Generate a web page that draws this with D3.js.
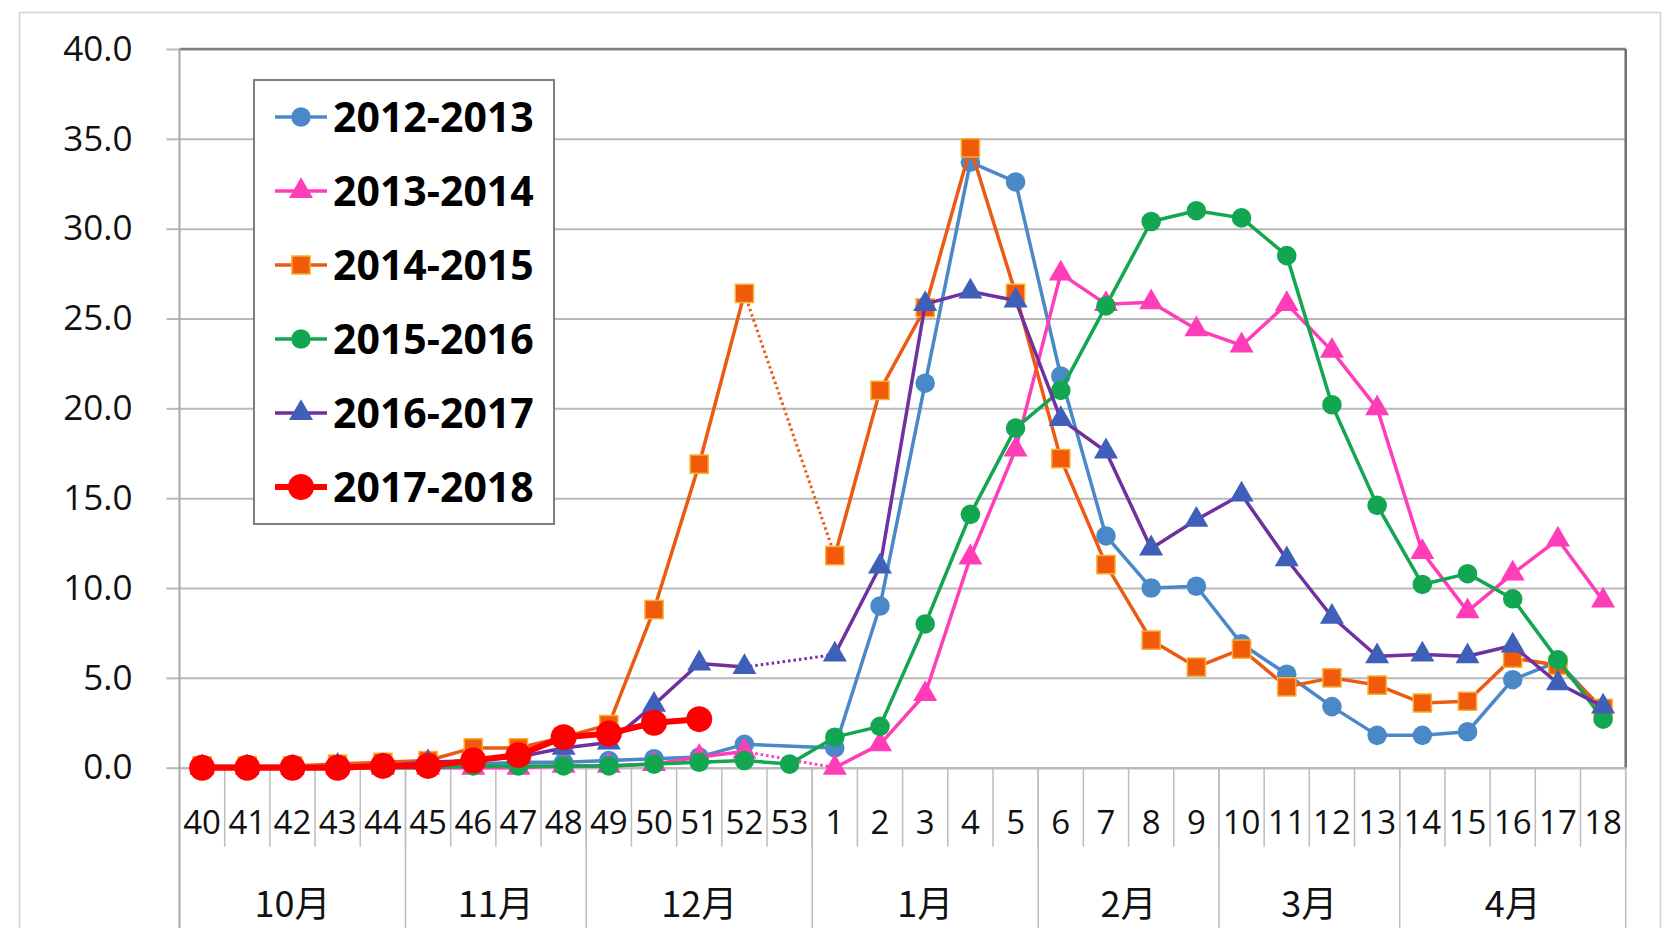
<!DOCTYPE html>
<html>
<head>
<meta charset="utf-8">
<script src="https://cdn.jsdelivr.net/npm/d3@7"></script>
<style>
    body { margin: 0; background: #fff; }
    svg { display: block; font-family: 'Open Sans', 'Noto Sans', sans-serif; }
</style>
</head>
<body>
<div class="line-chart-container"></div>
<script>
//週番号(40週~53週,1週~18週)
const weeks = ['40', '41', '42', '43', '44', '45', '46', '47', '48', '49', '50', '51', '52', '53',
    '1', '2', '3', '4', '5', '6', '7', '8', '9', '10', '11', '12', '13', '14', '15', '16', '17', '18'];
//月ラベルと各月の週数
const months = ['10月', '11月', '12月', '1月', '2月', '3月', '4月'];
const monthWeekCounts = [5, 4, 5, 5, 4, 4, 5];
const yTicks = [0, 5, 10, 15, 20, 25, 30, 35, 40];
const seasons = ['2012-2013', '2013-2014', '2014-2015', '2015-2016', '2016-2017', '2017-2018'];

//各シーズンの値,null=データなし
const v2012_2013 = [0.0, 0.0, 0.0, 0.1, 0.1, 0.2, 0.2, 0.3, 0.3, 0.4, 0.5, 0.6, 1.3, null,
    1.1, 9.0, 21.4, 33.7, 32.6, 21.8, 12.9, 10.0, 10.1, 6.9, 5.2, 3.4, 1.8, 1.8, 2.0, 4.9, 5.9, 3.2];
const v2013_2014 = [0.0, 0.0, 0.0, 0.0, 0.0, 0.0, 0.0, 0.0, 0.1, 0.1, 0.2, 0.6, 0.9, null,
    0.0, 1.3, 4.1, 11.7, 17.7, 27.5, 25.8, 25.9, 24.4, 23.5, 25.8, 23.2, 20.0, 12.0, 8.7, 10.8, 12.7, 9.3];
const v2014_2015 = [0.1, 0.1, 0.1, 0.2, 0.3, 0.4, 1.1, 1.1, 1.7, 2.4, 8.8, 16.9, 26.4, null,
    11.8, 21.0, 25.6, 34.5, 26.4, 17.2, 11.3, 7.1, 5.6, 6.6, 4.5, 5.0, 4.6, 3.6, 3.7, 6.1, 5.7, 3.3];
const v2015_2016 = [0.0, 0.0, 0.0, 0.0, 0.0, 0.0, 0.1, 0.1, 0.1, 0.1, 0.2, 0.3, 0.4, 0.2,
    1.7, 2.3, 8.0, 14.1, 18.9, 21.0, 25.7, 30.4, 31.0, 30.6, 28.5, 20.2, 14.6, 10.2, 10.8, 9.4, 6.0, 2.7];
const v2016_2017 = [0.0, 0.0, 0.0, 0.1, 0.1, 0.3, 0.4, 0.6, 1.1, 1.4, 3.5, 5.8, 5.6, null,
    6.3, 11.2, 25.8, 26.5, 26.0, 19.4, 17.6, 12.2, 13.8, 15.2, 11.6, 8.4, 6.2, 6.3, 6.2, 6.8, 4.7, 3.4];
const v2017_2018 = [0.0, 0.0, 0.0, 0.0, 0.1, 0.1, 0.4, 0.7, 1.7, 1.9, 2.5, 2.7, null, null,
    null, null, null, null, null, null, null, null, null, null, null, null, null, null, null, null, null, null];

//系列の見た目(色,マーカー,年末の欠測のつなぎ方)
const seriesList = [
    { name: seasons[0], values: v2012_2013, color: '#4A89C8', fill: '#4A89C8', stroke: 'none', shape: d3.symbolCircle, size: 300, width: 3.5, gap: 'solid' },
    { name: seasons[1], values: v2013_2014, color: '#FF3DB8', fill: '#FF3DB8', stroke: 'none', shape: d3.symbolTriangle, size: 250, width: 3.5, gap: 'dot' },
    { name: seasons[2], values: v2014_2015, color: '#EC5A12', fill: '#F05A0A', stroke: '#F8B030', shape: d3.symbolSquare, size: 330, width: 3.5, gap: 'dot' },
    { name: seasons[3], values: v2015_2016, color: '#12A650', fill: '#12A650', stroke: 'none', shape: d3.symbolCircle, size: 300, width: 3.5, gap: 'dot' },
    { name: seasons[4], values: v2016_2017, color: '#7030A0', fill: '#3F5FB8', stroke: 'none', shape: d3.symbolTriangle, size: 250, width: 3.5, gap: 'dot' },
    { name: seasons[5], values: v2017_2018, color: '#FF0000', fill: '#FF0000', stroke: 'none', shape: d3.symbolCircle, size: 530, width: 6, gap: 'dot' },
];

function setupCanvas() {
    const svg_width = 1666;
    const svg_height = 928;
    const plot = { left: 179.5, right: 1625.7, top: 49, bottom: 767.7 };
    const svg = d3.select('.line-chart-container').append('svg')
        .attr('width', svg_width).attr('height', svg_height);

    //外枠
    svg.append('rect').attr('x', 19.5).attr('y', 12.5).attr('width', 1641).attr('height', 940)
        .attr('fill', 'none').attr('stroke', '#d2d2d2').attr('stroke-width', 1.5);

    const xScale = d3.scaleBand().domain(weeks).range([plot.left, plot.right]);
    const yScale = d3.scaleLinear().domain([0, 40]).range([plot.bottom, plot.top]);
    const bw = xScale.bandwidth();
    const cx = w => xScale(w) + bw / 2;

    //横の格子線
    const grid = svg.append('g').attr('transform', `translate(${plot.left},0)`)
        .call(d3.axisLeft(yScale).tickValues(yTicks).tickFormat('')
            .tickSizeInner(-(plot.right - plot.left)).tickSizeOuter(0));
    grid.select('.domain').remove();
    grid.selectAll('line').attr('stroke', '#b9b9b9').attr('stroke-width', 2);

    //y軸の目盛とラベル
    const yAxisDraw = svg.append('g').attr('transform', `translate(${plot.left},0)`)
        .call(d3.axisLeft(yScale).tickValues(yTicks).tickFormat(d3.format('.1f'))
            .tickSizeInner(13).tickSizeOuter(0).tickPadding(34));
    yAxisDraw.select('.domain').remove();
    yAxisDraw.selectAll('line').attr('stroke', '#b9b9b9').attr('stroke-width', 2);
    yAxisDraw.selectAll('text').attr('fill', '#111').style('font-size', '35px')
        .style('font-family', "'Open Sans', sans-serif");

    //枠線(上と右は濃い灰色)
    svg.append('line').attr('x1', plot.left).attr('x2', plot.right)
        .attr('y1', plot.top).attr('y2', plot.top).attr('stroke', '#808080').attr('stroke-width', 2.5);
    svg.append('line').attr('x1', plot.right).attr('x2', plot.right)
        .attr('y1', plot.top).attr('y2', plot.bottom).attr('stroke', '#707070').attr('stroke-width', 2.5);
    svg.append('line').attr('x1', plot.left).attr('x2', plot.left)
        .attr('y1', plot.top).attr('y2', svg_height).attr('stroke', '#a8a8a8').attr('stroke-width', 2);

    //週の区切り線と月の区切り線
    const bounds = d3.range(weeks.length + 1).map(i => plot.left + i * bw);
    svg.append('g').selectAll('line').data(bounds.slice(1)).join('line')
        .attr('x1', d => d).attr('x2', d => d)
        .attr('y1', plot.bottom).attr('y2', 846.7)
        .attr('stroke', '#bdbdbd').attr('stroke-width', 1.5);
    const monthBounds = [0, ...Array.from(d3.cumsum(monthWeekCounts))];
    svg.append('g').selectAll('line').data(monthBounds.slice(1)).join('line')
        .attr('x1', d => bounds[d]).attr('x2', d => bounds[d])
        .attr('y1', plot.bottom).attr('y2', svg_height)
        .attr('stroke', '#bdbdbd').attr('stroke-width', 1.5);

    //x軸の週ラベル
    const xAxisDraw = svg.append('g').attr('transform', `translate(0,${plot.bottom})`)
        .call(d3.axisBottom(xScale).tickSize(0).tickPadding(43));
    xAxisDraw.select('.domain').attr('stroke', '#b9b9b9').attr('stroke-width', 2);
    xAxisDraw.selectAll('text').attr('fill', '#111').style('font-size', '33px')
        .style('font-family', "'Open Sans', sans-serif");

    //月ラベル
    svg.append('g').selectAll('text').data(months).join('text')
        .attr('x', (d, i) => (bounds[monthBounds[i]] + bounds[monthBounds[i + 1]]) / 2)
        .attr('y', 917)
        .attr('text-anchor', 'middle')
        .style('font-family', "'Noto Sans CJK JP', sans-serif")
        .style('font-size', '36px').attr('fill', '#111')
        .text(d => d);

    //折れ線と年末の点線
    const line = d3.line().defined(d => d.v !== null).x(d => cx(d.week)).y(d => yScale(d.v));
    seriesList.forEach(s => {
        const points = weeks.map((w, i) => ({ week: w, v: s.values[i] }));
        const defined = points.filter(d => d.v !== null);
        const g = svg.append('g').attr('class', 'series');
        g.append('path')
            .attr('d', s.gap === 'solid' ? line(defined) : line(points))
            .attr('fill', 'none').attr('stroke', s.color).attr('stroke-width', s.width)
            .attr('stroke-linejoin', 'round');
        if (s.gap === 'dot') {
            const pairs = [];
            let prev = null;
            points.forEach((p, i) => {
                if (p.v === null) return;
                if (prev && i - prev.i > 1) pairs.push([prev.p, p]);
                prev = { p, i };
            });
            g.selectAll('.gap').data(pairs).join('path').attr('class', 'gap')
                .attr('d', d => line(d))
                .attr('fill', 'none').attr('stroke', s.color).attr('stroke-width', 3)
                .attr('stroke-dasharray', '2.5,3');
        }
        g.selectAll('.marker').data(defined).join('path').attr('class', 'marker')
            .attr('transform', d => `translate(${cx(d.week)},${yScale(d.v)})`)
            .attr('d', d3.symbol().type(s.shape).size(s.size))
            .attr('fill', s.fill).attr('stroke', s.stroke).attr('stroke-width', 1.5);
    });

    //凡例
    const legend = svg.append('g').attr('class', 'legend');
    legend.append('rect').attr('x', 254).attr('y', 80).attr('width', 300).attr('height', 444)
        .attr('fill', '#fff').attr('stroke', '#7f7f7f').attr('stroke-width', 2);
    const item = legend.selectAll('.item').data(seriesList).join('g').attr('class', 'item')
        .attr('transform', (d, i) => `translate(0,${117 + i * 74})`);
    item.append('line').attr('x1', 275).attr('x2', 327)
        .attr('stroke', d => d.color).attr('stroke-width', d => d.width);
    item.append('path').attr('transform', 'translate(301,0)')
        .attr('d', d => d3.symbol().type(d.shape).size(d.size)())
        .attr('fill', d => d.fill).attr('stroke', d => d.stroke).attr('stroke-width', 1.5);
    item.append('text').attr('x', 333).attr('dy', '0.36em')
        .style('font-size', '41px').style('font-weight', 'bold').attr('fill', '#000')
        .text(d => d.name);
}

setupCanvas();
</script>
</body>
</html>
